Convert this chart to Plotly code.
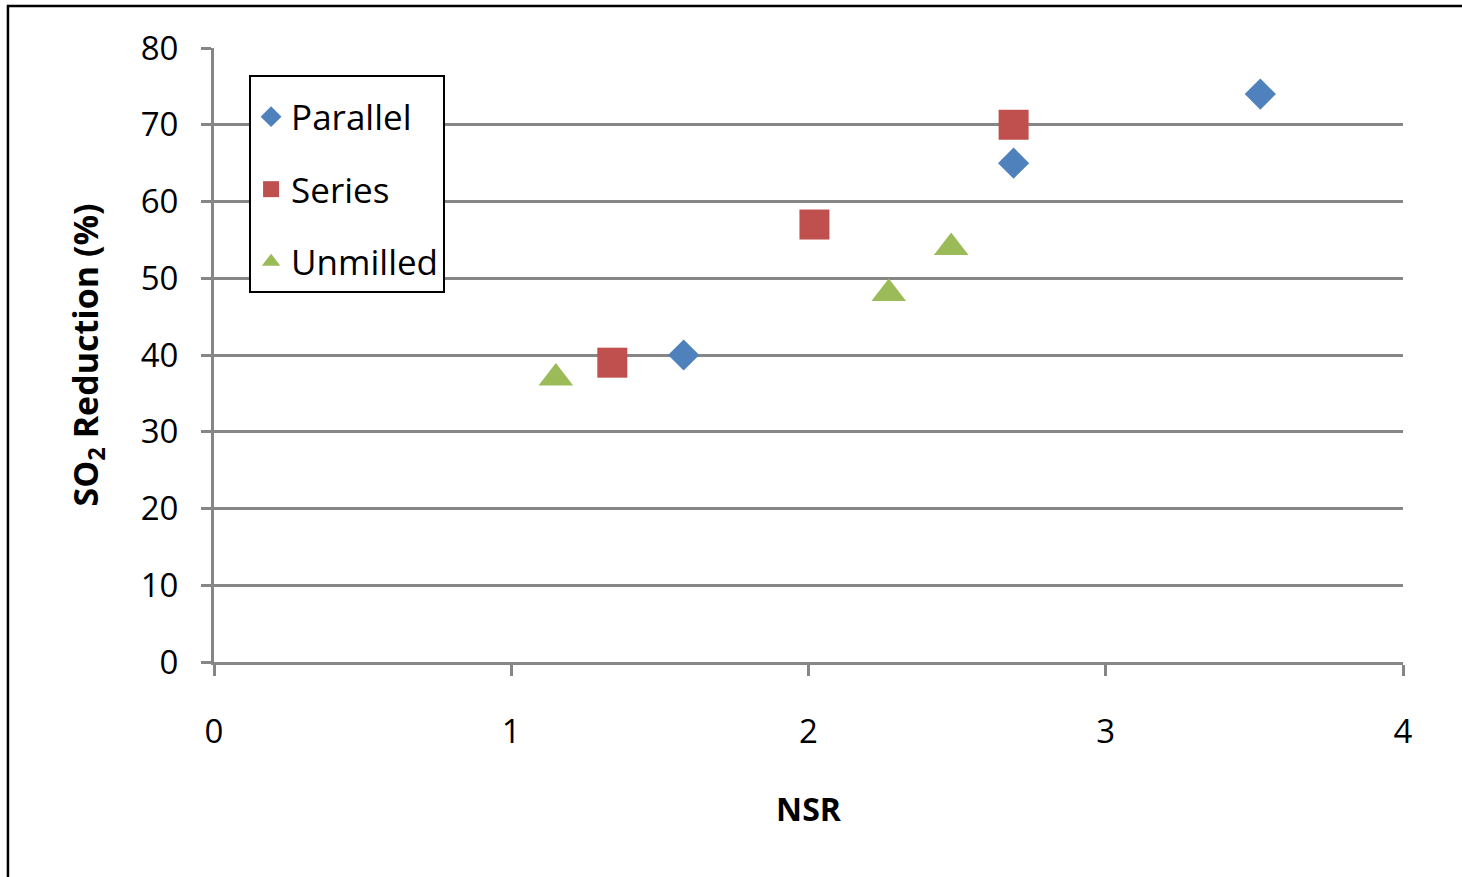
import plotly.graph_objects as go

series_names = ["Parallel", "Series", "Unmilled"]
parallel_x = [1.58, 2.69, 3.52]
parallel_y = [40, 65, 74]
series_x = [1.34, 2.02, 2.69]
series_y = [39, 57, 70]
unmilled_x = [1.15, 2.27, 2.48]
unmilled_y = [37, 48, 54]

x_ticks = [0, 1, 2, 3, 4]
y_ticks = [0, 10, 20, 30, 40, 50, 60, 70, 80]

FONT = "Open Sans, Lato, sans-serif"
GRAY = "#868686"

fig = go.Figure()
fig.add_trace(go.Scatter(x=parallel_x, y=parallel_y, mode="markers", name=series_names[0],
                         legendgroup="a",
                         marker=dict(symbol="diamond", size=24, color="#4F81BD")))
fig.add_trace(go.Scatter(x=series_x, y=series_y, mode="markers", name=series_names[1],
                         legendgroup="b",
                         marker=dict(symbol="square", size=30, color="#C0504D")))
fig.add_trace(go.Scatter(x=unmilled_x, y=unmilled_y, mode="markers", name=series_names[2],
                         legendgroup="c",
                         marker=dict(symbol="triangle-up", size=30, color="#9BBB59")))

fig.update_layout(
    width=1462, height=877,
    margin=dict(l=214, r=59, t=48, b=215, pad=0),
    paper_bgcolor="white", plot_bgcolor="white",
    font=dict(family=FONT, color="black", size=32),
    showlegend=True,
    legend=dict(x=0.0295, y=0.956, xanchor="left", yanchor="top",
                bgcolor="white", bordercolor="black", borderwidth=2,
                font=dict(size=35, family=FONT), tracegroupgap=24,
                title=dict(text=" ", font=dict(size=8)),
                traceorder="grouped", itemsizing="trace"),
    shapes=[dict(type="rect", xref="paper", yref="paper",
                 x0=-0.1733, x1=1.5, y0=-1.0, y1=1.0685,
                 line=dict(color="black", width=2.5), layer="below")],
)

fig.update_xaxes(range=[0, 4], tickvals=x_ticks, showgrid=False, zeroline=False,
                 showline=True, linecolor=GRAY, linewidth=3,
                 ticks="outside", ticklen=11, tickwidth=2.5, tickcolor=GRAY,
                 tickfont=dict(size=33, family=FONT), ticklabelstandoff=27,
                 title=dict(text="<b>NSR</b>", font=dict(size=32, family=FONT), standoff=48))
fig.update_yaxes(range=[0, 80], tickvals=y_ticks, showgrid=True, gridcolor=GRAY, gridwidth=2.5,
                 zeroline=False, showline=True, linecolor=GRAY, linewidth=3,
                 ticks="outside", ticklen=10, tickwidth=2.5, tickcolor=GRAY,
                 tickfont=dict(size=33, family=FONT), ticklabelstandoff=16,
                 title=dict(text="<b>SO<sub>2</sub> Reduction (%)</b>", font=dict(size=34, family=FONT), standoff=32))

fig.write_html("out.html", config={"displayModeBar": False},
               post_script="document.body.style.margin='0';document.body.style.padding='0';")
